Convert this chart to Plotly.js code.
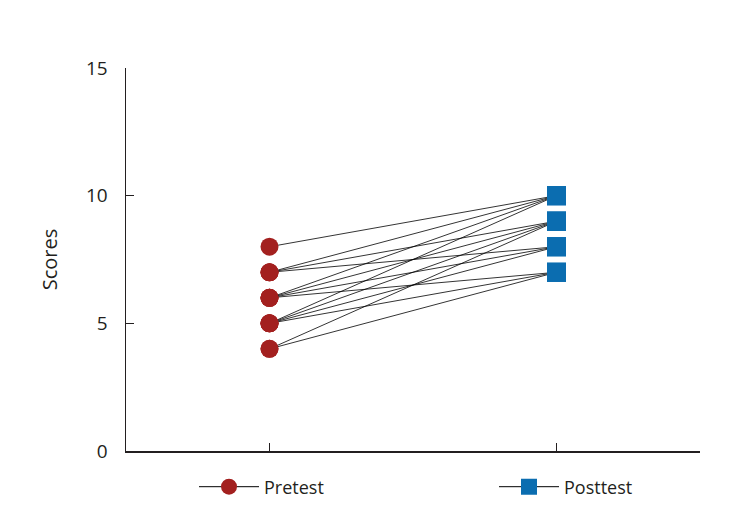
<!DOCTYPE html>
<html>
<head>
<meta charset="utf-8">
<script src="https://cdn.plot.ly/plotly-3.0.1.min.js"></script>
<style>html,body{margin:0;padding:0;background:#fff;}#chart{width:748px;height:526px;}</style>
</head>
<body>
<div id="chart"></div>
<script>
const groups = ["Pretest", "Posttest"];
const preScores  = [8, 7, 7, 7, 6, 6, 6, 6, 5, 5, 5, 5, 4, 4];
const postScores = [10, 10, 9, 8, 10, 9, 8, 7, 10, 9, 8, 7, 9, 7];
const yTicks = [0, 5, 10, 15];

const textColor = "#231f20";
const preColor = "#a3201f";
const postColor = "#0b6db0";

// connecting lines (one segment per subject, separated by nulls)
const lx = [], ly = [];
for (let i = 0; i < preScores.length; i++) {
  lx.push(0, 1, null);
  ly.push(preScores[i], postScores[i], null);
}

// marker traces with nulls in between so only the legend shows the line
function sep(vals, xv) {
  const xs = [], ys = [];
  vals.forEach(v => { xs.push(xv, null); ys.push(v, null); });
  return {xs, ys};
}
const pre = sep(preScores, 0);
const post = sep(postScores, 1);

const traces = [
  {x: lx, y: ly, mode: "lines", line: {color: "#000", width: 0.8}, showlegend: false, hoverinfo: "skip"},
  {x: pre.xs, y: pre.ys, name: groups[0], mode: "lines+markers", connectgaps: false, legend: "legend",
   line: {color: "#000", width: 1}, marker: {symbol: "circle", size: 18, color: preColor}},
  {x: post.xs, y: post.ys, name: groups[1], mode: "lines+markers", connectgaps: false, legend: "legend2",
   line: {color: "#000", width: 1}, marker: {symbol: "square", size: 19, color: postColor}}
];

const legendCommon = {
  orientation: "h", xanchor: "left", yanchor: "middle", y: -0.094,
  xref: "paper", yref: "paper", itemwidth: 60,
  font: {family: "Open Sans, Noto Sans, sans-serif", size: 18, color: textColor},
  bgcolor: "rgba(0,0,0,0)", borderwidth: 0
};

const layout = {
  width: 748, height: 526,
  margin: {l: 126, r: 48, t: 68, b: 75},
  paper_bgcolor: "#fff", plot_bgcolor: "#fff",
  font: {family: "Open Sans, Noto Sans, sans-serif", color: textColor, size: 18},
  xaxis: {
    range: [-0.5, 1.5], tickvals: [0, 1], showticklabels: false,
    ticks: "inside", ticklen: 8, tickwidth: 1, tickcolor: textColor,
    showline: true, linecolor: textColor, linewidth: 1.5,
    showgrid: false, zeroline: false, fixedrange: true
  },
  yaxis: {
    range: [0, 15], tickvals: yTicks, ticktext: yTicks.map(String),
    ticks: "inside", ticklen: 8, tickwidth: 1, tickcolor: textColor,
    ticklabelstandoff: 13,
    showline: true, linecolor: textColor, linewidth: 1.5,
    showgrid: false, zeroline: false,
    tickfont: {size: 19, color: textColor},
    title: {text: "Scores", font: {size: 20, color: textColor}, standoff: 23}
  },
  showlegend: true,
  legend: Object.assign({}, legendCommon, {x: (194 - 126) / 574}),
  legend2: Object.assign({}, legendCommon, {x: (494 - 126) / 574})
};

Plotly.newPlot("chart", traces, layout, {displayModeBar: false, staticPlot: true});
</script>
</body>
</html>
